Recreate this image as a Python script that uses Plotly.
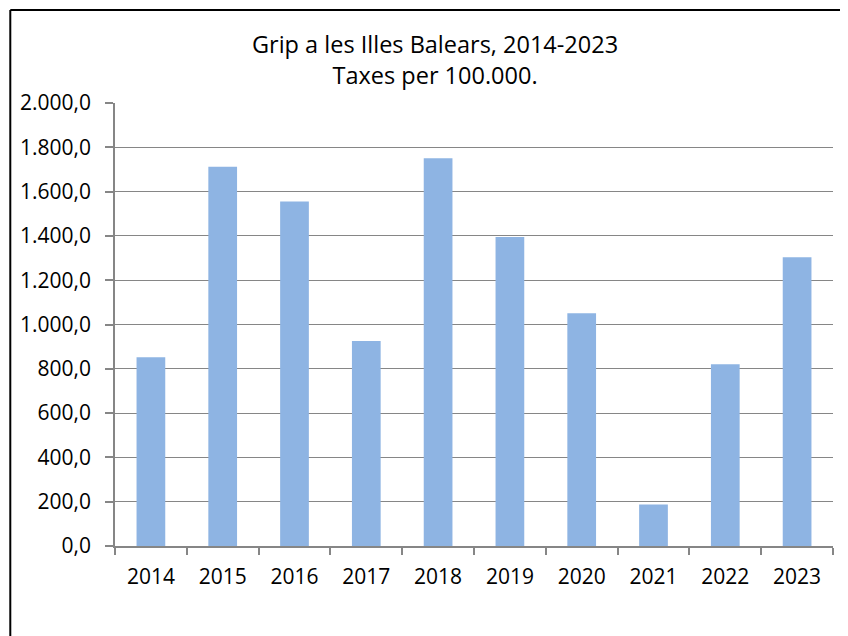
import plotly.graph_objects as go

years = ["2014", "2015", "2016", "2017", "2018", "2019", "2020", "2021", "2022", "2023"]
rates = [852, 1712, 1555, 925, 1751, 1395, 1051, 187, 821, 1304]
y_ticks = [0, 200, 400, 600, 800, 1000, 1200, 1400, 1600, 1800, 2000]

title_lines = ["Grip a les Illes Balears, 2014-2023", "Taxes per 100.000."]

FONT = "Open Sans"
OFF = 8  # page body margin offset
W, H = 848 - OFF, 636 - OFF
L, R, T, B = 113 - OFF, 15, 103 - OFF, 90
pw, ph = W - L - R, H - T - B

fig = go.Figure(go.Bar(
    x=years, y=rates, width=0.4,
    marker=dict(color="#8EB4E3", line=dict(width=0)),
))

fig.update_layout(
    width=W, height=H,
    margin=dict(l=L, r=R, t=T, b=B, pad=0),
    paper_bgcolor="white", plot_bgcolor="white",
    separators=",.",
    showlegend=False,
    font=dict(family=FONT, size=21, color="#000000"),
    xaxis=dict(
        type="category", range=[-0.5, 9.5],
        tickson="boundaries", ticks="outside", ticklen=7, tickwidth=1.5, tickcolor="#868686",
        showline=True, linecolor="#868686", linewidth=1.5,
        showgrid=False, ticklabelstandoff=11,
        tickfont=dict(family=FONT, size=21, color="#000000"),
    ),
    yaxis=dict(
        range=[0, 2000], tickvals=y_ticks, tickformat=",.1f",
        ticks="outside", ticklen=8, tickwidth=1.5, tickcolor="#868686",
        showline=True, linecolor="#868686", linewidth=1.5,
        showgrid=True, gridcolor="#868686", gridwidth=1.2,
        zeroline=False, ticklabelstandoff=10,
        tickfont=dict(family=FONT, size=21, color="#000000"),
    ),
    annotations=[dict(
        text="<br>".join(title_lines),
        xref="paper", yref="paper",
        x=(434 - 113) / pw, y=(546 - 60) / ph,
        xanchor="center", yanchor="middle", showarrow=False,
        font=dict(family=FONT, size=23.5, color="#000000"),
    )],
)

bx = (8 - 113) / pw
by = (546 - 10) / ph
fig.add_shape(type="line", xref="paper", yref="paper", x0=bx, x1=bx, y0=-0.5, y1=by,
              line=dict(color="#000000", width=2))
fig.add_shape(type="line", xref="paper", yref="paper", x0=bx, x1=1.5, y0=by, y1=by,
              line=dict(color="#000000", width=2))

fig.write_html("out.html")
